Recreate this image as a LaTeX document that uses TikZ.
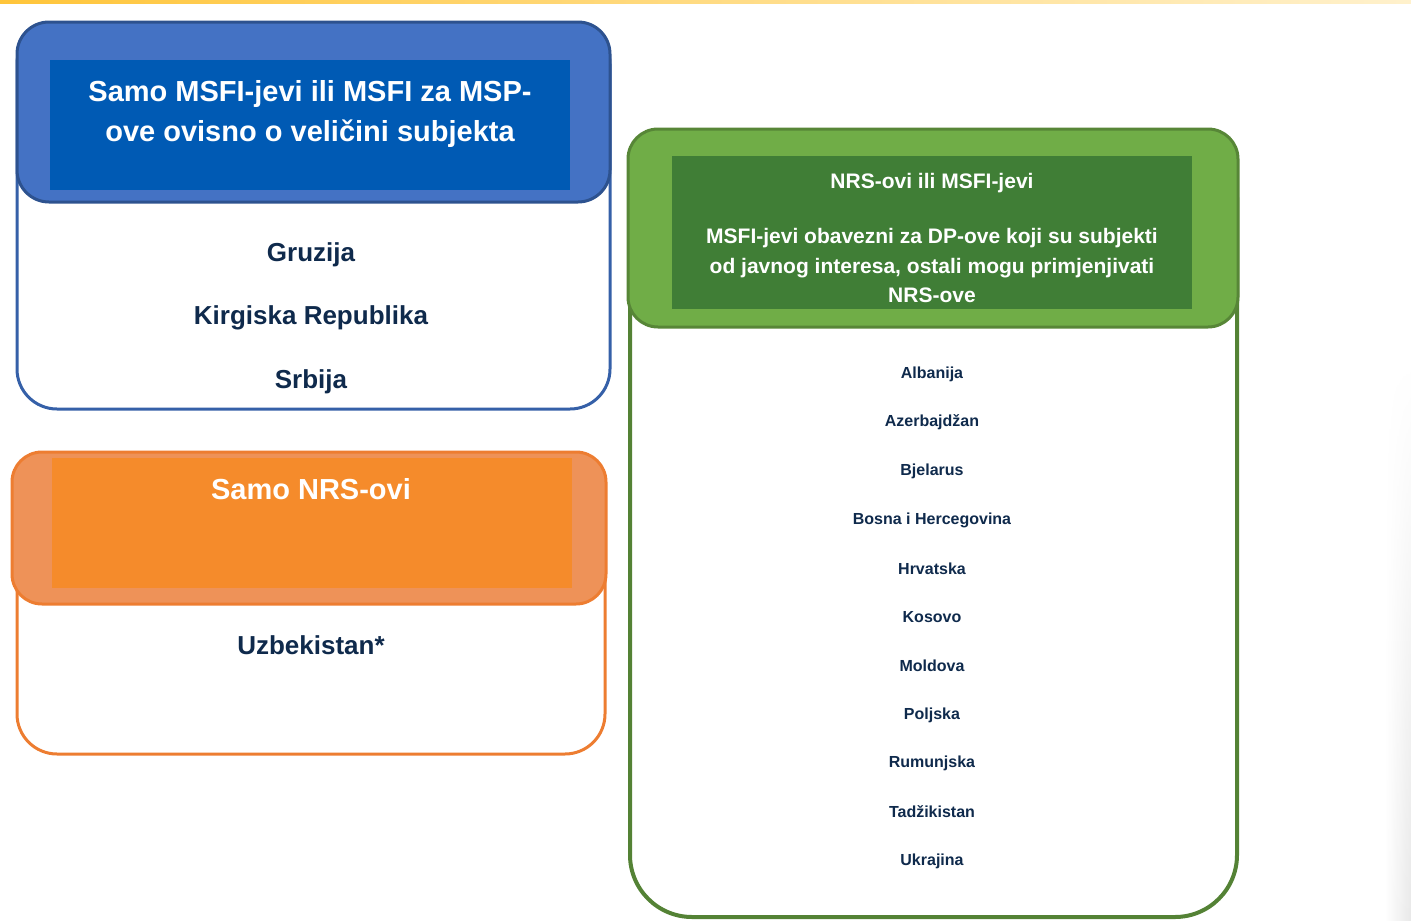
\documentclass[tikz,border=0pt]{standalone}
\usepackage{fontspec}
\usetikzlibrary{fadings}
\setmainfont{Liberation Sans}
\definecolor{navy}{HTML}{0F2A4C}
\definecolor{bluehead}{HTML}{4472C4}
\definecolor{blueline}{HTML}{3560A8}
\definecolor{blueinner}{HTML}{005AB4}
\definecolor{orhead}{HTML}{EE9258}
\definecolor{orline}{HTML}{ED7D31}
\definecolor{orinner}{HTML}{F58B2B}
\definecolor{grhead}{HTML}{70AD47}
\definecolor{grline}{HTML}{548235}
\definecolor{grinner}{HTML}{407E36}
\definecolor{topbarL}{HTML}{FFC53A}
\definecolor{topbarR}{HTML}{FFF1CC}
\tikzset{
  headtxt/.style={text=white, font=\bfseries, align=center, inner sep=0pt},
  bigtxt/.style={text=navy, font=\fontsize{26}{30}\selectfont\bfseries, inner sep=0pt},
  smalltxt/.style={text=navy, font=\fontsize{16}{19}\selectfont\bfseries, inner sep=0pt},
}
\begin{document}
\begin{tikzpicture}[x=1pt,y=-1pt]
\useasboundingbox (0,0) rectangle (1411,921);
% top bar
\shade[left color=topbarL, right color=topbarR] (0,0) rectangle (1411,3);
% right edge faint shadow
\shade[left color=white, right color=black!9, path fading=north] (1385,360) rectangle (1411,921);

% ---- blue box ----
\draw[blueline, line width=3, fill=white, rounded corners=40] (17,24) rectangle (610,409);
\draw[blueline!85!black, line width=3, fill=bluehead, rounded corners=32] (17,22) rectangle (610,202);
\fill[blueinner] (50,60) rectangle (570,190);
\node[headtxt, font=\fontsize{29}{40}\selectfont\bfseries] (bh) at (310,114) {Samo MSFI-jevi ili MSFI za MSP-\\ove ovisno o veličini subjekta};
\node[bigtxt] (b1) at (311,255) {Gruzija};
\node[bigtxt] (b2) at (311,318) {Kirgiska Republika};
\node[bigtxt] (b3) at (311,382) {Srbija};

% ---- orange box ----
\draw[orline, line width=3, fill=white, rounded corners=40] (17,456) rectangle (605,754);
\draw[orline, line width=3, fill=orhead, rounded corners=30] (12,452) rectangle (606,604);
\fill[orinner] (52,458) rectangle (572,588);
\node[headtxt, font=\fontsize{29}{34}\selectfont\bfseries] (oh) at (311,489) {Samo NRS-ovi};
\node[bigtxt] (o1) at (311,645) {Uzbekistan*};

% ---- green box ----
\draw[grline, line width=4, fill=white, rounded corners=62] (630,136) rectangle (1237,917);
\draw[grline!90!grhead, line width=3, fill=grhead, rounded corners=30] (628,129) rectangle (1238,327);
\fill[grinner] (672,156) rectangle (1192,309);
\node[headtxt, font=\fontsize{21}{29.5}\selectfont\bfseries] (gh) at (932,238) {NRS-ovi ili MSFI-jevi\\[26pt]MSFI-jevi obavezni za DP-ove koji su subjekti\\od javnog interesa, ostali mogu primjenjivati\\NRS-ove};
\node[smalltxt] (g1) at (932,374) {Albanija};
\node[smalltxt] (g2) at (932,422) {Azerbajdžan};
\node[smalltxt] (g3) at (932,471) {Bjelarus};
\node[smalltxt] (g4) at (932,520) {Bosna i Hercegovina};
\node[smalltxt] (g5) at (932,569) {Hrvatska};
\node[smalltxt] (g6) at (932,617) {Kosovo};
\node[smalltxt] (g7) at (932,666) {Moldova};
\node[smalltxt] (g8) at (932,715) {Poljska};
\node[smalltxt] (g9) at (932,763) {Rumunjska};
\node[smalltxt] (g10) at (932,812) {Tadžikistan};
\node[smalltxt] (g11) at (932,861) {Ukrajina};
\end{tikzpicture}
\end{document}
